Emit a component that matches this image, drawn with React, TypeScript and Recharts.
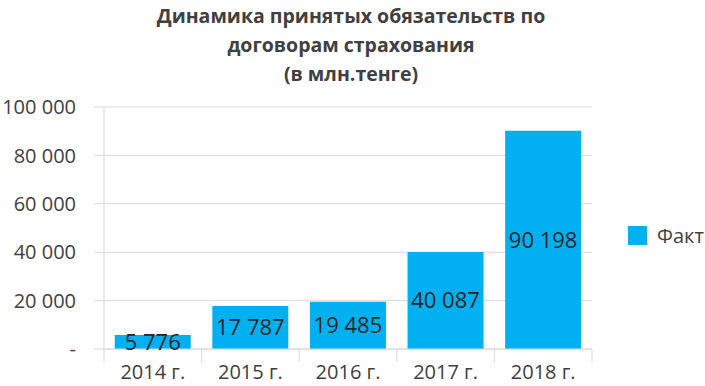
import { Bar, BarChart, CartesianGrid, LabelList, Legend, XAxis, YAxis } from "recharts";

const years = ["2014 г.", "2015 г.", "2016 г.", "2017 г.", "2018 г."];
const fact = [5776, 17787, 19485, 40087, 90198];
const yTicks = [0, 20000, 40000, 60000, 80000, 100000];

const rows = years.map((year, i) => ({ year, fact: fact[i] }));

const fmt = (v: number) => (v === 0 ? "-" : String(v).replace(/\B(?=(\d{3})+(?!\d))/g, " "));

const FONT = "'Open Sans', sans-serif";
const GRID = "#d9d9d9";
const PLOT_LEFT = 104;
const PLOT_RIGHT = 592;
const BAND = (PLOT_RIGHT - PLOT_LEFT) / years.length;

function YearTick(props: any) {
  const { x, y, payload, index } = props;
  const left = x - BAND / 2;
  return (
    <g>
      <line x1={left} x2={left} y1={y - 8} y2={y + 5} stroke={GRID} />
      {index === years.length - 1 && (
        <line x1={left + BAND} x2={left + BAND} y1={y - 8} y2={y + 5} stroke={GRID} />
      )}
      <text x={x} y={y + 17} textAnchor="middle" dominantBaseline="middle" fontSize={20} fill="#404040" fontFamily={FONT}>
        {payload.value}
      </text>
    </g>
  );
}

function FactLegend() {
  return (
    <div style={{ display: "flex", alignItems: "center", fontFamily: FONT, fontSize: 20, color: "#404040" }}>
      <span style={{ width: 19, height: 19, background: "#00B0F0", display: "inline-block", marginRight: 10 }} />
      Факт
    </div>
  );
}

export default function App() {
  return (
    <div style={{ position: "absolute", left: 0, top: 0, width: 705, height: 386, background: "#fff" }}>
      <div
        style={{
          position: "absolute",
          left: 0,
          top: 1,
          width: 702,
          textAlign: "center",
          fontFamily: FONT,
          fontWeight: 700,
          fontSize: 19.5,
          lineHeight: "29px",
          color: "#404040",
        }}
      >
        Динамика принятых обязательств по
        <br />
        договорам страхования
        <br />
        (в млн.тенге)
      </div>
      <BarChart
        width={705}
        height={386}
        data={rows}
        margin={{ top: 107, right: 705 - PLOT_RIGHT, bottom: 0, left: 0 }}
        barCategoryGap="11%"
      >
        <CartesianGrid vertical={false} stroke={GRID} />
        <XAxis
          dataKey="year"
          axisLine={{ stroke: GRID }}
          tickLine={false}
          tick={<YearTick />}
          interval={0}
          height={37}
        />
        <YAxis
          width={PLOT_LEFT}
          domain={[0, 100000]}
          ticks={yTicks}
          tickFormatter={fmt}
          axisLine={{ stroke: GRID }}
          tickLine={{ stroke: GRID }}
          tickSize={10}
          tickMargin={18}
          tick={{ fontSize: 20, fill: "#404040", fontFamily: FONT }}
        />
        <Legend
          layout="horizontal"
          verticalAlign="middle"
          align="center"
          content={<FactLegend />}
          wrapperStyle={{ position: "absolute", left: 628, top: 222, width: 80 }}
        />
        <Bar dataKey="fact" name="Факт" fill="#00B0F0" isAnimationActive={false}>
          <LabelList
            dataKey="fact"
            position="center"
            formatter={(v: any) => fmt(Number(v))}
            style={{ fontSize: 22, fill: "#262626", fontFamily: FONT }}
          />
        </Bar>
      </BarChart>
    </div>
  );
}
